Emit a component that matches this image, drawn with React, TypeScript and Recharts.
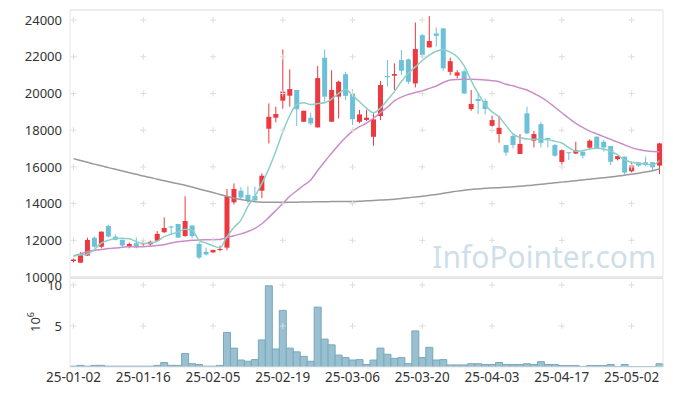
import React from 'react';
import { ComposedChart, BarChart, Bar, Line, XAxis, YAxis, ReferenceLine, ReferenceDot } from 'recharts';

const dates = [
  '25-01-02','25-01-03','25-01-06','25-01-07','25-01-08','25-01-09','25-01-10','25-01-13','25-01-14','25-01-15',
  '25-01-16','25-01-17','25-01-20','25-01-21','25-01-22','25-01-23','25-01-24','25-01-31','25-02-03','25-02-04',
  '25-02-05','25-02-06','25-02-07','25-02-10','25-02-11','25-02-12','25-02-13','25-02-14','25-02-17','25-02-18',
  '25-02-19','25-02-20','25-02-21','25-02-24','25-02-25','25-02-26','25-02-27','25-02-28','25-03-04','25-03-05',
  '25-03-06','25-03-07','25-03-10','25-03-11','25-03-12','25-03-13','25-03-14','25-03-17','25-03-18','25-03-19',
  '25-03-20','25-03-21','25-03-24','25-03-25','25-03-26','25-03-27','25-03-28','25-03-31','25-04-01','25-04-02',
  '25-04-03','25-04-04','25-04-07','25-04-08','25-04-09','25-04-10','25-04-11','25-04-14','25-04-15','25-04-16',
  '25-04-17','25-04-18','25-04-21','25-04-22','25-04-23','25-04-24','25-04-25','25-04-28','25-04-29','25-04-30',
  '25-05-02','25-05-07','25-05-08','25-05-09','25-05-12'
];

const opens = [
  10870,10780,11170,12140,11650,12780,12200,12030,11690,11840,
  11800,11780,11980,12440,12750,12890,12230,12800,11800,11370,
  11340,11470,11600,14070,14700,14480,14420,14700,18080,18680,
  19610,19880,20190,18460,18680,18150,21950,18460,19830,21050,
  20000,18460,18560,17640,18770,20950,20970,21820,21860,20550,
  23180,22510,23270,23550,21180,20970,21210,19150,19700,19590,
  18240,17790,17190,17680,16700,18920,17430,18330,17580,17190,
  16270,16800,16730,16830,17050,17650,17370,17140,16420,16560,
  15760,16250,16250,16250,16070
];
const highs = [
  11000,11350,12140,12200,12490,12850,12320,12030,11880,12150,
  12000,11980,12500,13250,12800,12900,14400,12820,11900,11600,
  11500,11700,14800,15100,14900,14940,14930,15650,19460,19280,
  22400,21310,20190,19060,18950,21490,22400,21270,20700,21180,
  20230,19100,19120,18920,20680,21820,21640,22370,21910,23870,
  23240,24220,23600,23550,21950,21270,21310,20190,20060,19730,
  18790,18790,17190,17790,17790,19280,17960,18460,17580,17250,
  16950,16800,17370,16830,17500,17650,17460,17140,16590,16560,
  16290,16250,16560,16250,17320
];
const lows = [
  10800,10780,11150,11600,11560,12150,11990,11640,11560,11560,
  11700,11700,11950,12400,12300,12120,12200,12100,10980,11170,
  11320,11400,11450,13950,14220,14000,14150,14300,17280,18430,
  19170,19280,18230,18460,18270,18150,19550,18460,18640,19640,
  18280,18380,18500,17150,18550,20370,20190,21000,20510,20330,
  21910,22510,22550,21240,21000,20820,19980,19060,18880,18860,
  18190,17320,16600,17010,16700,17790,17060,17060,17060,16550,
  16100,16380,16700,16450,16980,17010,16830,16100,16350,15580,
  15700,16000,16030,15800,15610
];
const closes = [
  10950,11200,12020,11650,12470,12200,12030,11720,11800,11620,
  11840,11920,12350,12670,12700,12150,13050,12230,11060,11230,
  11470,11530,14400,14800,14330,14150,14170,15520,18730,18880,
  20100,20240,19140,19060,18370,20840,19830,20190,20640,19870,
  18600,18860,18680,18590,20460,20890,21060,21240,20640,22420,
  22090,22860,23140,21370,21760,21150,20000,19430,19590,19150,
  18550,18130,16780,17190,17250,17830,17790,17310,17530,16610,
  16910,16750,16910,16610,17430,17010,17060,16280,16590,15690,
  16070,16070,16100,15980,17280
];
const ma5 = [
  11160,11200,11250,11500,11850,12000,12100,12110,12080,11930,
  11830,11850,11950,12200,12330,12450,12600,12550,12000,11850,
  11700,11600,12200,12700,13100,13850,14400,15100,15900,16850,
  17900,18800,19400,19500,19400,19450,19500,19700,20000,20230,
  19900,19550,19200,18950,19200,19650,20100,20650,21100,21450,
  21800,22090,22300,22400,22250,22000,21500,20700,20000,19400,
  19000,18730,18250,17800,17600,17520,17500,17500,17480,17400,
  17300,17050,16850,16880,16980,17010,16980,16850,16650,16380,
  16250,16180,16160,16100,16350
];
const ma20 = [
  11140,11250,11380,11450,11500,11550,11580,11620,11650,11650,
  11650,11680,11720,11760,11850,11920,11960,12000,12020,12030,
  12040,12050,12150,12250,12350,12480,12650,12900,13250,13620,
  14000,14400,14700,15000,15290,15800,16280,16750,17200,17600,
  17950,18190,18380,18650,18950,19250,19600,19800,19950,20050,
  20150,20280,20410,20600,20730,20760,20770,20770,20760,20740,
  20700,20640,20500,20420,20300,20190,20000,19800,19550,19250,
  18950,18650,18370,18150,17950,17800,17650,17500,17350,17200,
  17050,16950,16880,16840,16830
];
const ma120 = [
  16450,16350,16250,16150,16060,15960,15870,15780,15680,15600,
  15500,15420,15330,15250,15160,15080,15000,14900,14800,14700,
  14600,14500,14400,14300,14220,14150,14100,14080,14070,14070,
  14070,14080,14080,14090,14090,14100,14100,14110,14110,14120,
  14120,14130,14150,14170,14190,14210,14240,14280,14320,14360,
  14400,14450,14500,14560,14620,14680,14730,14770,14800,14830,
  14850,14870,14890,14920,14950,14980,15010,15050,15090,15130,
  15170,15210,15250,15290,15330,15370,15410,15450,15500,15550,
  15600,15660,15720,15790,15890
];
const volumes = [
  0.1,0.2,0.1,0.2,0.2,0.1,0.1,0.1,0.1,0.1,
  0.1,0.1,0.2,0.55,0.2,0.2,1.65,0.4,0.3,0.1,
  0.1,0.2,4.2,2.3,0.85,0.7,0.9,3.3,9.9,2.2,
  6.9,2.3,1.85,1.3,0.7,7.3,3.4,2.7,1.45,1.15,
  0.85,0.9,0.3,0.85,2.3,1.55,1.05,1.15,0.4,4.4,
  1.15,2.4,0.85,0.9,0.25,0.25,0.25,0.4,0.4,0.3,
  0.3,0.55,0.3,0.3,0.3,0.4,0.3,0.65,0.3,0.3,
  0.17,0.17,0.17,0.05,0.17,0.17,0.17,0.3,0.05,0.3,
  0.05,0.05,0.05,0.05,0.4
];

const tickDates = ['25-01-02','25-01-16','25-02-05','25-02-19','25-03-06','25-03-20','25-04-03','25-04-17','25-05-02'];
const priceTicks = [10000, 12000, 14000, 16000, 18000, 20000, 22000, 24000];
const volTicks = [5, 10];

const PRICE_DOMAIN: [number, number] = [10000, 24550];
const VOL_DOMAIN: [number, number] = [0, 10.85];

const RED = '#ec383e';
const BLUE = '#6cc0d8';
const BORDER = '#e6e6e6';
const CROSS = '#dddddd';
const FONT = '"Noto Sans", sans-serif';
const TXT = '#333333';

const rows = dates.map((d, i) => ({
  date: d,
  range: [lows[i], highs[i]],
  o: opens[i], h: highs[i], l: lows[i], c: closes[i],
  ma5: ma5[i], ma20: ma20[i], ma120: ma120[i],
  vol: volumes[i],
}));

const Candle = (props: any) => {
  const { x, y, width, height, payload } = props;
  if (x == null || y == null) return null;
  const { o, h, l, c } = payload;
  const up = c >= o;
  const color = up ? RED : BLUE;
  const top = Math.min(y, y + height);
  const full = Math.abs(height);
  const ratio = h - l > 0 ? full / (h - l) : 0;
  const bodyTop = top + (h - Math.max(o, c)) * ratio;
  const bodyH = Math.max(1, Math.abs(o - c) * ratio);
  const cx = x + width / 2;
  return (
    <g>
      <line x1={cx} x2={cx} y1={top} y2={top + Math.max(full, 1)} stroke={color} strokeWidth={1} />
      <rect x={x} y={bodyTop} width={width} height={bodyH} fill={color} />
    </g>
  );
};

const Cross = (props: any) => {
  const { cx, cy } = props;
  if (cx == null || cy == null) return null;
  return <path d={`M${cx - 3},${cy}H${cx + 3}M${cx},${cy - 3}V${cy + 3}`} stroke={CROSS} strokeWidth={1} fill="none" />;
};

const tickStyle = { fontSize: 13, fill: TXT, fontFamily: FONT };
const xTickStyle = { fontSize: 13.5, fill: TXT, fontFamily: FONT };

export default function App() {
  return (
    <div style={{ position: 'absolute', left: 0, top: 0, width: 673, height: 396, background: '#fff', overflow: 'hidden' }}>
      <svg width={673} height={396} style={{ position: 'absolute', left: 0, top: 0 }}>
        <text x={656} y={268} textAnchor="end" fontSize={30} fill="#cfdfe9" fontFamily={FONT}>InfoPointer.com</text>
        <text transform="translate(40,322) rotate(-90)" textAnchor="middle" fontSize={13} fill={TXT} fontFamily={FONT}>
          10<tspan fontSize={9} dy={-6}>6</tspan>
        </text>
      </svg>
      <div style={{ position: 'absolute', left: 0, top: 270 }}>
        <BarChart width={673} height={126} data={rows} margin={{ top: 8, right: 0, bottom: 0, left: 0 }} barCategoryGap={0}>
          <XAxis dataKey="date" ticks={tickDates} interval={0} tickLine={false} tickSize={3} tickMargin={2}
            axisLine={{ stroke: BORDER }} tick={xTickStyle} height={29} />
          <YAxis domain={VOL_DOMAIN} ticks={volTicks} width={70} tickLine={false}
            axisLine={{ stroke: BORDER }} tick={tickStyle} allowDataOverflow />
          <YAxis yAxisId="r" orientation="right" domain={VOL_DOMAIN} width={10} tick={false} tickLine={false}
            axisLine={{ stroke: BORDER }} />
          {tickDates.map((d) => volTicks.map((v) => (
            <ReferenceDot key={`vc-${d}-${v}`} x={d} y={v} r={3} shape={<Cross />} />
          )))}
          <ReferenceLine y={VOL_DOMAIN[1]} stroke={BORDER} strokeWidth={2} />
          <Bar dataKey="vol" fill="#98c0d0" stroke="#7aa8bc" strokeWidth={1} isAnimationActive={false} />
        </BarChart>
      </div>
      <div style={{ position: 'absolute', left: 0, top: 0 }}>
        <ComposedChart width={673} height={292} data={rows} margin={{ top: 10, right: 0, bottom: 15, left: 0 }}>
          <XAxis dataKey="date" hide />
          <YAxis domain={PRICE_DOMAIN} ticks={priceTicks} width={70} tickLine={false}
            axisLine={{ stroke: BORDER }} tick={tickStyle} allowDataOverflow />
          <YAxis yAxisId="r" orientation="right" domain={PRICE_DOMAIN} width={10} tick={false} tickLine={false}
            axisLine={{ stroke: BORDER }} />
          {tickDates.map((d) => priceTicks.filter((p) => p > 10000).map((p) => (
            <ReferenceDot key={`pc-${d}-${p}`} x={d} y={p} r={3} shape={<Cross />} />
          )))}
          <ReferenceLine y={PRICE_DOMAIN[1]} stroke={BORDER} strokeWidth={1.5} />
          <ReferenceLine y={PRICE_DOMAIN[0]} stroke={BORDER} strokeWidth={1.5} />
          <Line dataKey="ma120" stroke="#9a9a9a" strokeWidth={1.5} dot={false} type="monotone" isAnimationActive={false} />
          <Line dataKey="ma20" stroke="#c98ec7" strokeWidth={1.5} dot={false} type="monotone" isAnimationActive={false} />
          <Line dataKey="ma5" stroke="#8ccfc4" strokeWidth={1.5} dot={false} type="monotone" isAnimationActive={false} />
          <Bar dataKey="range" barSize={5} shape={<Candle />} isAnimationActive={false} />
        </ComposedChart>
      </div>
    </div>
  );
}
